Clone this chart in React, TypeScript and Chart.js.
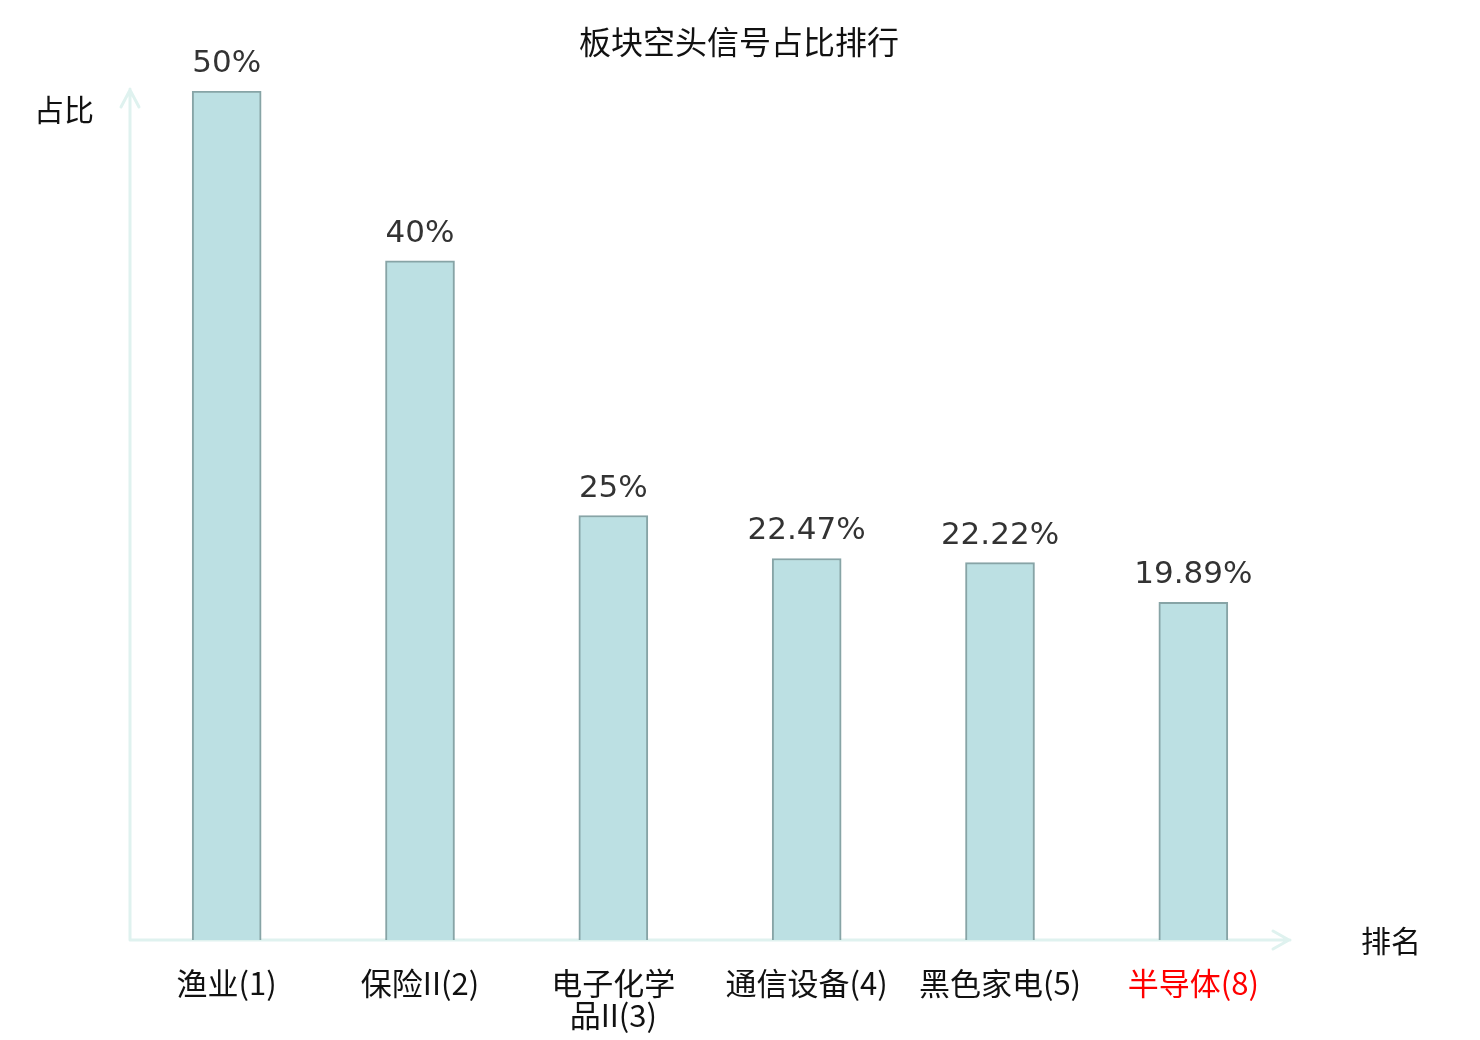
import React, { useEffect, useRef } from 'react';
import { Chart, registerables } from 'chart.js';
import type { Plugin } from 'chart.js';

Chart.register(...registerables);

const TITLE = '板块空头信号占比排行';
const Y_NAME = '占比';
const X_NAME = '排名';
const categories: (string | string[])[] = [
  '渔业(1)',
  '保险II(2)',
  ['电子化学', '品II(3)'],
  '通信设备(4)',
  '黑色家电(5)',
  '半导体(8)',
];
const shortRatios = [50, 40, 25, 22.47, 22.22, 19.89];
const highlighted = [false, false, false, false, false, true];

const AXIS_COLOR = '#dff2ef';
const CJK_FONT = '"Noto Sans CJK SC", "Noto Sans", sans-serif';
const NUM_FONT = '"DejaVu Sans", sans-serif';

// axes with arrow heads, drawn under the bars
const axisPlugin: Plugin<'bar'> = {
  id: 'arrowAxes',
  beforeDatasetsDraw(chart) {
    const { ctx, chartArea } = chart;
    const { left, right, top, bottom } = chartArea;
    ctx.save();
    ctx.strokeStyle = AXIS_COLOR;
    ctx.lineWidth = 3;
    ctx.lineCap = 'round';
    ctx.lineJoin = 'round';
    ctx.beginPath();
    ctx.moveTo(left, bottom);
    ctx.lineTo(left, top - 2);
    ctx.moveTo(left - 9, top + 16);
    ctx.lineTo(left, top - 1);
    ctx.lineTo(left + 9, top + 16);
    ctx.moveTo(left, bottom);
    ctx.lineTo(right, bottom);
    ctx.moveTo(right - 17, bottom - 9);
    ctx.lineTo(right - 1, bottom);
    ctx.lineTo(right - 17, bottom + 9);
    ctx.stroke();
    ctx.restore();
  },
};

// title, axis names, category labels and value labels
const textPlugin: Plugin<'bar'> = {
  id: 'texts',
  afterDraw(chart) {
    const { ctx, chartArea } = chart;
    const xScale = chart.scales.x;
    ctx.save();

    ctx.fillStyle = '#111';
    ctx.textAlign = 'center';
    ctx.textBaseline = 'middle';
    ctx.font = `32px ${CJK_FONT}`;
    ctx.fillText(TITLE, 739, 42);

    ctx.font = `30px ${CJK_FONT}`;
    ctx.textAlign = 'left';
    ctx.fillText(Y_NAME, 34, 110);
    ctx.fillText(X_NAME, 1361, 941);

    ctx.font = `31px ${CJK_FONT}`;
    ctx.textAlign = 'center';
    categories.forEach((c, i) => {
      const x = xScale.getPixelForValue(i);
      const lines = Array.isArray(c) ? c : [c];
      ctx.fillStyle = highlighted[i] ? '#ff0000' : '#111';
      lines.forEach((line, j) => {
        ctx.fillText(line, x, chartArea.bottom + 43 + j * 32);
      });
    });

    const meta = chart.getDatasetMeta(0);
    ctx.fillStyle = '#333';
    ctx.font = `31px ${NUM_FONT}`;
    ctx.textBaseline = 'alphabetic';
    meta.data.forEach((bar: any, i) => {
      ctx.fillText(`${shortRatios[i]}%`, bar.x, bar.y - 19);
    });
    ctx.restore();
  },
};

export default function App() {
  const canvasRef = useRef<HTMLCanvasElement>(null);

  useEffect(() => {
    if (!canvasRef.current) return;
    document.body.style.margin = '0';
    const chart = new Chart(canvasRef.current, {
      type: 'bar',
      data: {
        labels: categories.map((c) => (Array.isArray(c) ? c.join('') : c)),
        datasets: [
          {
            data: shortRatios,
            backgroundColor: '#bce0e3',
            borderColor: '#87a4a6',
            borderWidth: 2,
            barThickness: 69,
          },
        ],
      },
      options: {
        responsive: false,
        animation: false,
        devicePixelRatio: 1,
        layout: { padding: { left: 130, right: 190, top: 91, bottom: 100 } },
        plugins: {
          legend: { display: false },
          title: { display: false },
          tooltip: { enabled: false },
        },
        scales: {
          x: { display: false, offset: true },
          y: { display: false, min: 0, max: 50 },
        },
      },
      plugins: [axisPlugin, textPlugin],
    });
    return () => chart.destroy();
  }, []);

  return (
    <div style={{ position: 'absolute', left: 0, top: 0, width: 1480, height: 1040, background: '#fff' }}>
      <canvas ref={canvasRef} width={1480} height={1040} />
    </div>
  );
}
